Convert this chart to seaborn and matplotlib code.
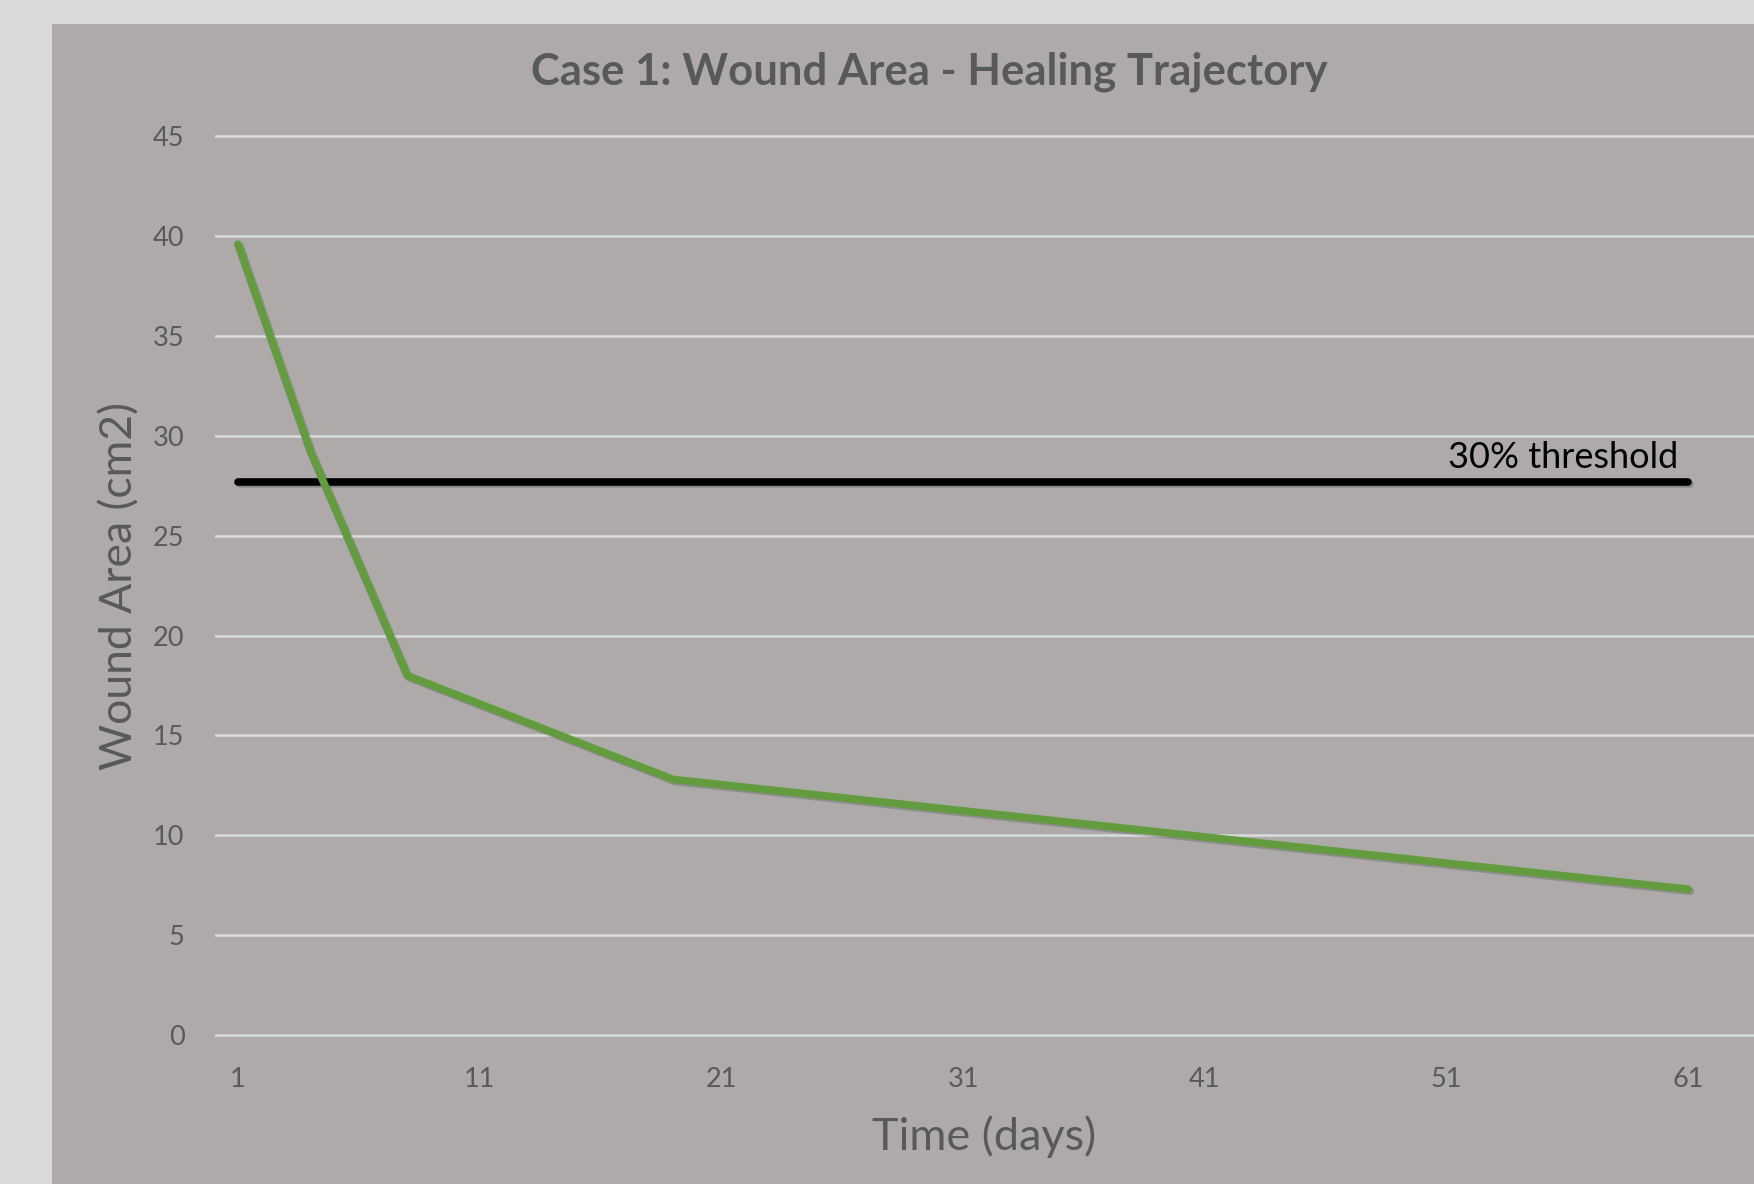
import matplotlib
matplotlib.use("Agg")
import matplotlib.pyplot as plt
import matplotlib.patheffects as pe
import seaborn as sns
import pandas as pd

# data
days = [1, 4, 8, 19, 61]
wound_area = [39.6, 29.2, 18.0, 12.8, 7.3]
threshold_days = [1, 61]
threshold_value = [27.7, 27.7]
x_ticks = [1, 11, 21, 31, 41, 51, 61]
y_ticks = [0, 5, 10, 15, 20, 25, 30, 35, 40, 45]

sns.set_style("white")
plt.rcParams['font.family'] = ['Lato', 'DejaVu Sans']

outer_bg = "#D9D9D9"
panel_bg = "#AEAAAA"
text_col = "#595959"
green = "#629C3F"

fig = plt.figure(figsize=(17.54, 11.84), dpi=100, facecolor=outer_bg)
# chart area panel
panel = plt.Rectangle((52 / 1754, 0), 1.0, 1 - 24 / 1184, transform=fig.transFigure,
                      facecolor=panel_bg, edgecolor="none", zorder=-10)
fig.patches.append(panel)

ax = fig.add_axes([215 / 1754, 0.1174, 1 - 215 / 1754, 0.7758])
ax.set_facecolor("none")
ax.set_zorder(5)

df = pd.DataFrame({"day": days, "area": wound_area})
thr = pd.DataFrame({"day": threshold_days, "area": threshold_value})

shadow = [pe.SimpleLineShadow(offset=(1.5, -1.5), alpha=0.25, shadow_color="#333333"), pe.Normal()]
sns.lineplot(data=thr, x="day", y="area", ax=ax, color="black", linewidth=5.5,
             solid_capstyle="round", path_effects=shadow, zorder=3)
sns.lineplot(data=df, x="day", y="area", ax=ax, color=green, linewidth=5.5,
             solid_capstyle="round", solid_joinstyle="round", path_effects=shadow, zorder=4)

ax.text(60.6, 28.1, "30% threshold", ha="right", va="bottom", fontsize=26, color="black")

ax.set_xlim(0.05, 1 + (1754 - 238) / 24.17)
ax.set_ylim(-0.5, 45.5)
ax.set_xticks(x_ticks)
ax.set_yticks(y_ticks)
ax.tick_params(axis="y", length=0, pad=22, labelsize=19.5, labelcolor=text_col)
ax.tick_params(axis="x", length=0, pad=16, labelsize=19.5, labelcolor=text_col)
ax.yaxis.grid(True, color="#DCDCDC", linewidth=1.8)
ax.xaxis.grid(False)
for s in ax.spines.values():
    s.set_visible(False)

ax.set_xlabel("Time (days)", fontsize=32.5, color=text_col, labelpad=17)
ax.set_ylabel("Wound Area (cm2)", fontsize=32, color=text_col, labelpad=9)

fig.text(929 / 1754, 1 - 72 / 1184, "Case 1: Wound Area - Healing Trajectory",
         ha="center", va="center", fontsize=31.4, fontweight="bold", color=text_col)

fig.savefig("out.png", dpi=100, facecolor=outer_bg)
